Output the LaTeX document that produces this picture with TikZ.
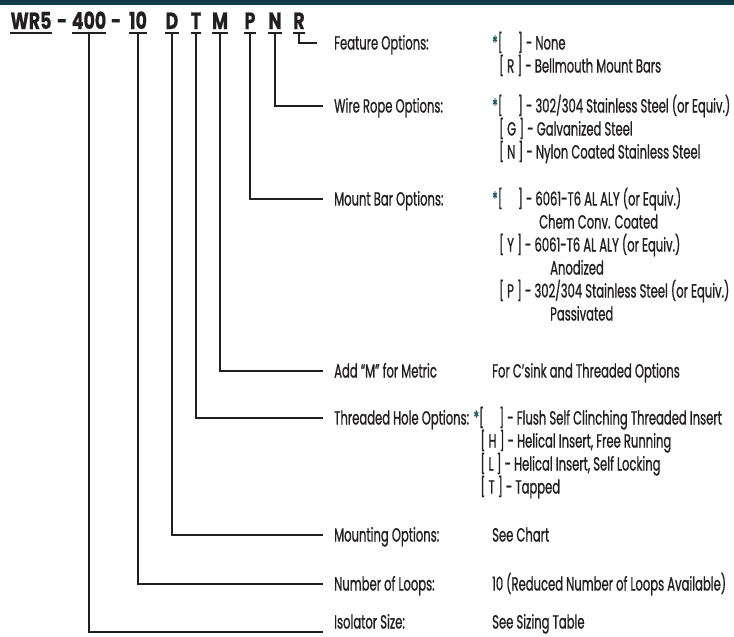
\documentclass[tikz,border=0pt]{standalone}
\usepackage{fontspec}
\setmainfont{Poppins}[FakeStretch=0.61, FakeBold=0.9]
\newfontfamily\hdrfam{Poppins}[FakeStretch=0.74, FakeBold=0.6]
\definecolor{ink}{RGB}{35,31,32}
\definecolor{barc}{RGB}{16,58,72}
\definecolor{astc}{RGB}{20,90,100}
\newcommand\mhdr{\hdrfam\fontsize{23.5}{26}\selectfont\bfseries}
\newcommand\mlbl{\fontsize{19}{22}\selectfont}
\newcommand\myast{{\color{astc}*}}
\newcommand\eb{[\hspace{0.8em}]}
\tikzset{
  hdr/.style={inner sep=0pt, anchor=base, font=\mhdr, text=ink},
  lbl/.style={inner sep=0pt, anchor=base west, font=\mlbl, text=ink},
  conn/.style={draw=ink, line width=1.9pt},
  uline/.style={draw=ink, line width=2pt},
}
\begin{document}
\begin{tikzpicture}[x=1pt,y=-1pt]
\useasboundingbox (0,0) rectangle (734,637);
\fill[barc] (0,0) rectangle (734,4.5);
% header
\node[hdr] (hWR) at (31,29) {WR5};
\node[hdr] (hd1) at (62,29) {-};
\node[hdr] (h400) at (89,29) {400};
\node[hdr] (hd2) at (116,29) {-};
\node[hdr] (h10) at (138,29) {10};
\node[hdr] (hD) at (172,29) {D};
\node[hdr] (hT) at (196,29) {T};
\node[hdr] (hM) at (220,29) {M};
\node[hdr] (hP) at (250,29) {P};
\node[hdr] (hN) at (275,29) {N};
\node[hdr] (hR) at (299,29) {R};
\foreach \n in {hWR,h400,h10,hD,hT,hM,hP,hN,hR}
  \draw[uline] ([yshift=-4pt]\n.base west) -- ([yshift=-4pt]\n.base east);
% labels
\def\lx{334}
\def\vx{492}
\def\sx{499}
\node[lbl] (fl) at (\lx,49.5) {Feature Options:};
\node[lbl] (fv1) at (\vx,49.5) {\myast\eb\ - None};
\node[lbl] (fv2) at (\sx,72.5) {[ R ] - Bellmouth Mount Bars};
\node[lbl] (wl) at (\lx,112.5) {Wire Rope Options:};
\node[lbl] (wv1) at (\vx,112.5) {\myast\eb\ - 302/304 Stainless Steel (or Equiv.)};
\node[lbl] (wv2) at (\sx,135.5) {[ G ] - Galvanized Steel};
\node[lbl] (wv3) at (\sx,158.5) {[ N ] - Nylon Coated Stainless Steel};
\node[lbl] (ml) at (\lx,205.5) {Mount Bar Options:};
\node[lbl] (mv1) at (\vx,205.5) {\myast\eb\ - 6061-T6 AL ALY (or Equiv.)};
\node[lbl] (mv2) at (\vx+47,228.5) {Chem Conv. Coated};
\node[lbl] (mv3) at (\sx,251.5) {[ Y ] - 6061-T6 AL ALY (or Equiv.)};
\node[lbl] (mv4) at (\vx+58,274.5) {Anodized};
\node[lbl] (mv5) at (\sx,297.5) {[ P ] - 302/304 Stainless Steel (or Equiv.)};
\node[lbl] (mv6) at (\vx+58,320.5) {Passivated};
\node[lbl] (al) at (\lx,377.5) {Add “M” for Metric};
\node[lbl] (av) at (\vx,377.5) {For C’sink and Threaded Options};
\node[lbl] (tl) at (\lx,424.5) {Threaded Hole Options:};
\node[lbl] (tv1) at ([xshift=4pt]tl.base east) {\myast\eb\ - Flush Self Clinching Threaded Insert};
\node[lbl] (tv2) at ([xshift=7pt,yshift=-23pt]tv1.base west) {[ H ] - Helical Insert, Free Running};
\node[lbl] (tv3) at ([yshift=-23pt]tv2.base west) {[ L ] - Helical Insert, Self Locking};
\node[lbl] (tv4) at ([yshift=-23pt]tv3.base west) {[ T ] - Tapped};
\node[lbl] (ol) at (\lx,541.5) {Mounting Options:};
\node[lbl] (ov) at (\vx,541.5) {See Chart};
\node[lbl] (nl) at (\lx,590.5) {Number of Loops:};
\node[lbl] (nv) at (\vx,590.5) {10 (Reduced Number of Loops Available)};
\node[lbl] (il) at (\lx,628.5) {Isolator Size:};
\node[lbl] (iv) at (\vx,628.5) {See Sizing Table};
% connector ends
\coordinate (eF) at (317,43);
\coordinate (eW) at (323,106);
\coordinate (eM) at (323,199);
\coordinate (eA) at (323,371);
\coordinate (eT) at (323,418);
\coordinate (eO) at (323,535);
\coordinate (eN) at (323,584);
\coordinate (eI) at (323,632);
\draw[conn] ([yshift=-4pt]hR.base) |- (eF);
\draw[conn] ([yshift=-4pt]hN.base) |- (eW);
\draw[conn] ([yshift=-4pt]hP.base) |- (eM);
\draw[conn] ([yshift=-4pt]hM.base) |- (eA);
\draw[conn] ([yshift=-4pt]hT.base) |- (eT);
\draw[conn] ([yshift=-4pt]hD.base) |- (eO);
\draw[conn] ([yshift=-4pt]h10.base) |- (eN);
\draw[conn] ([yshift=-4pt]h400.base) |- (eI);
\end{tikzpicture}
\end{document}
